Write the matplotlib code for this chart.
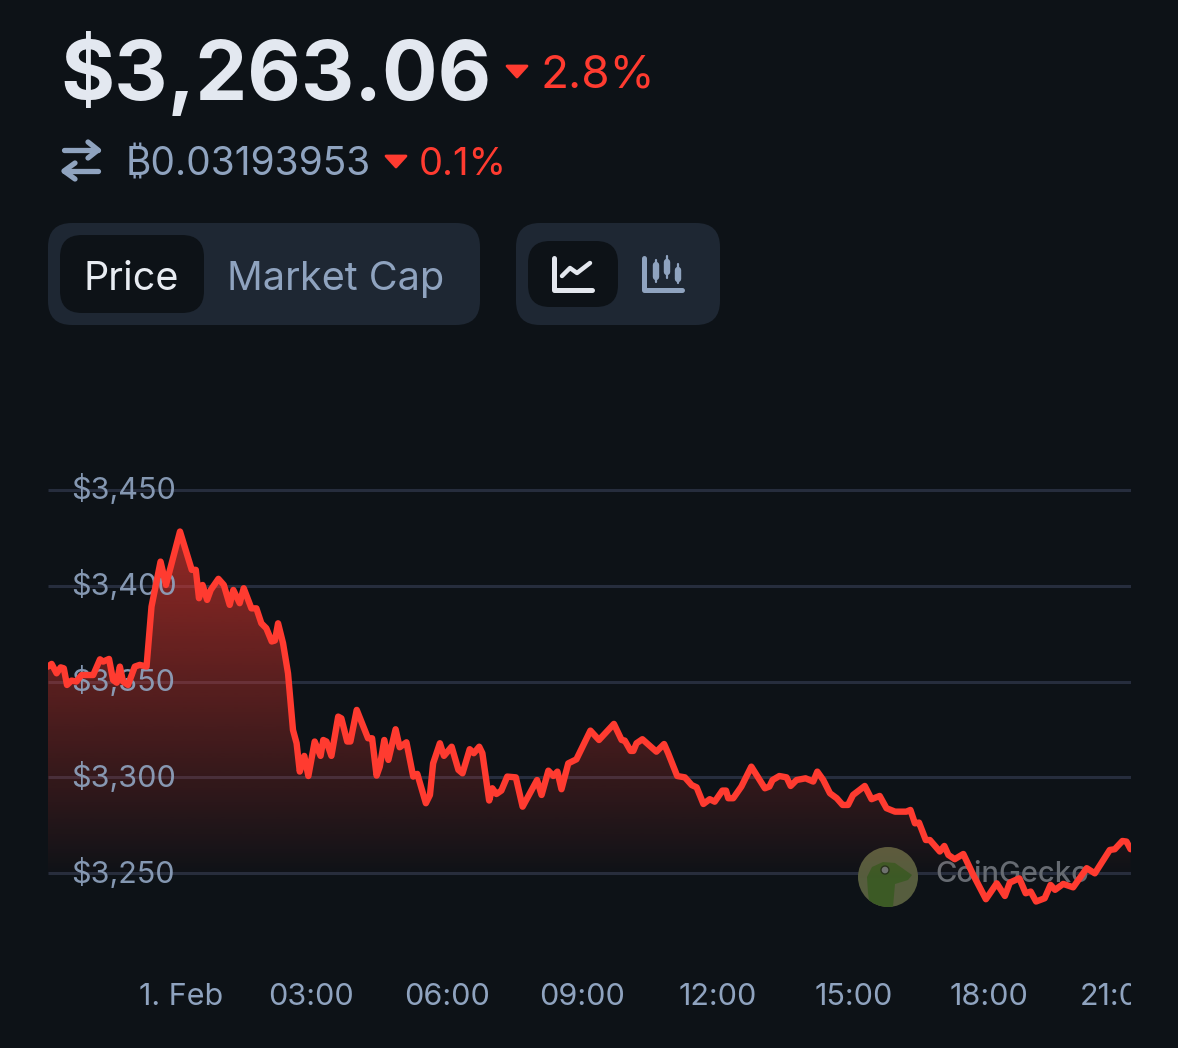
import numpy as np
import matplotlib
matplotlib.use('Agg')
import matplotlib.pyplot as plt
from matplotlib.patches import Circle, FancyBboxPatch, Polygon
from matplotlib.transforms import Bbox

# hours relative to 1 Feb 00:00, price in USD
hours = [
    -2.82, -2.74, -2.63, -2.54, -2.47, -2.40, -2.30, -2.19, -2.08, -1.82, -1.67, -1.60, -1.47, -1.38, -1.30,
    -1.23, -1.16, -1.05, -0.90, -0.79, -0.64, -0.53, -0.33, -0.21, 0.10, 0.36, 0.45, 0.52, 0.60, 0.70,
    0.78, 0.95, 1.07, 1.20, 1.28, 1.42, 1.51, 1.68, 1.79, 1.90, 2.01, 2.13, 2.20, 2.27, 2.38,
    2.49, 2.60, 2.68, 2.75, 2.85, 2.94, 3.08, 3.21, 3.27, 3.34, 3.45, 3.60, 3.67, 3.80, 3.87,
    4.01, 4.26, 4.35, 4.45, 4.52, 4.62, 4.71, 4.87, 4.96, 5.11, 5.26, 5.35, 5.54, 5.63, 5.70,
    5.85, 5.94, 6.11, 6.26, 6.35, 6.51, 6.60, 6.72, 6.79, 6.94, 7.01, 7.10, 7.21, 7.34, 7.53,
    7.68, 8.00, 8.10, 8.25, 8.36, 8.45, 8.54, 8.69, 8.87, 9.18, 9.37, 9.70, 9.87, 9.94, 10.07,
    10.13, 10.20, 10.33, 10.64, 10.81, 10.90, 11.10, 11.27, 11.42, 11.53, 11.68, 11.82, 11.93, 12.10, 12.18,
    12.23, 12.34, 12.52, 12.74, 13.04, 13.14, 13.21, 13.36, 13.52, 13.61, 13.74, 13.94, 14.11, 14.20, 14.33,
    14.48, 14.63, 14.76, 14.88, 14.99, 15.25, 15.40, 15.58, 15.73, 15.92, 16.17, 16.26, 16.36, 16.45, 16.60,
    16.69, 16.91, 17.01, 17.10, 17.24, 17.43, 17.65, 17.93, 18.17, 18.35, 18.46, 18.67, 18.81, 18.92, 19.04,
    19.23, 19.36, 19.46, 19.64, 19.86, 20.16, 20.34, 20.67, 20.78, 20.95, 21.04, 21.13,
]
prices = [
    3357.8, 3359.2, 3354.3, 3357.4, 3356.9, 3348.2, 3350.5, 3350.0, 3353.4, 3353.4, 3361.6, 3360.4, 3361.8, 3350.8, 3349.4,
    3357.8, 3350.0, 3348.2, 3357.8, 3358.7, 3357.8, 3389.1, 3412.6, 3400.4, 3428.3, 3408.3, 3408.3, 3393.5, 3400.4, 3392.6,
    3397.8, 3403.6, 3400.4, 3390.0, 3397.8, 3390.9, 3398.7, 3388.2, 3388.2, 3380.4, 3377.8, 3370.9, 3371.4, 3380.4, 3370.0,
    3354.3, 3324.7, 3317.8, 3303.0, 3311.2, 3300.7, 3318.7, 3311.2, 3319.5, 3318.7, 3311.2, 3331.7, 3330.8, 3318.7, 3318.7,
    3335.2, 3320.4, 3320.4, 3300.9, 3305.6, 3319.5, 3309.1, 3325.1, 3315.7, 3318.3, 3300.4, 3301.8, 3286.5, 3290.8, 3307.3,
    3317.8, 3311.2, 3316.0, 3303.9, 3302.1, 3314.7, 3312.6, 3316.0, 3312.6, 3287.9, 3294.3, 3291.3, 3293.1, 3300.4, 3300.0,
    3284.7, 3298.6, 3290.8, 3303.5, 3300.7, 3303.0, 3293.8, 3307.3, 3309.4, 3324.4, 3319.5, 3327.9, 3319.5, 3319.2, 3313.8,
    3313.8, 3317.8, 3319.9, 3313.4, 3317.4, 3312.6, 3300.7, 3300.0, 3296.0, 3294.8, 3286.1, 3288.6, 3287.3, 3293.1, 3293.1,
    3289.1, 3289.1, 3295.2, 3305.6, 3294.3, 3295.2, 3298.6, 3300.7, 3300.0, 3295.5, 3298.6, 3299.5, 3297.8, 3303.0, 3298.7,
    3291.7, 3289.1, 3285.6, 3285.6, 3290.8, 3295.5, 3288.6, 3290.3, 3283.9, 3282.1, 3282.1, 3283.0, 3276.0, 3276.4, 3267.3,
    3267.3, 3261.3, 3264.2, 3259.5, 3257.3, 3260.0, 3249.1, 3236.4, 3244.7, 3238.1, 3245.1, 3247.3, 3239.5, 3240.4, 3235.2,
    3236.9, 3243.9, 3241.3, 3244.4, 3242.6, 3252.6, 3249.9, 3262.1, 3262.5, 3266.8, 3266.5, 3262.5,
]
ytick_values = [3250, 3300, 3350, 3400, 3450]
ytick_labels = ['$3,250', '$3,300', '$3,350', '$3,400', '$3,450']
# "1. Feb" sits a little right of midnight, "21:00" a little left of its hour
xtick_values = [0.13, 3, 6, 9, 12, 15, 18, 20.87]
xtick_labels = ['1. Feb', '03:00', '06:00', '09:00', '12:00', '15:00', '18:00', '21:00']

BG = '#0d1217'
RED = '#ff3b30'
SLATE = '#8fa3bf'
PANEL = '#1e2733'
FONT = ['Inter', 'DejaVu Sans']

plt.rcParams['font.family'] = FONT

W, H = 1178, 1048
fig = plt.figure(figsize=(W / 100, H / 100), dpi=100, facecolor=BG)

# image pixel rows the chart covers, mapped to its y limits
chart_top, chart_bottom = 470, 950
chart_rect = [48 / W, 1 - chart_bottom / H, (1131 - 48) / W, (chart_bottom - chart_top) / H]
x_range = (-2.82, 21.14)
y_range = (3209.9, 3460.4)

# gridlines go in their own axes so the watermark can sit on top of them
grid_ax = fig.add_axes(chart_rect, zorder=0)
grid_ax.set_xlim(*x_range)
grid_ax.set_ylim(*y_range)
grid_ax.axis('off')
grid_ax.hlines(ytick_values, *x_range, color='#262d3d', lw=2.2)

# header and buttons are laid out in image pixels
ui = fig.add_axes([0, 0, 1, 1], zorder=1)
ui.set_xlim(0, W)
ui.set_ylim(H, 0)
ui.axis('off')

ui.text(60, 74, '$3,263.06', color='#e3e8f0', fontsize=59.5, fontweight='bold', va='center', ha='left')
ui.text(540, 75, '2.8%', color=RED, fontsize=33, va='center', ha='left')
ui.text(126, 165, '₿0.03193953', color=SLATE, fontsize=28, va='center', ha='left')
ui.text(419, 165, '0.1%', color=RED, fontsize=27.5, va='center', ha='left')


def triangle(cx, cy):
    ui.add_patch(Polygon([(cx - 10, cy - 5), (cx + 10, cy - 5), (cx, cy + 6)], closed=True, facecolor=RED,
                         edgecolor=RED, linewidth=2, joinstyle='round'))


triangle(517, 71)
triangle(396, 161)


def stroke(xs, ys, color, lw=3.2):
    ui.plot(xs, ys, color=color, lw=lw, solid_capstyle='round', solid_joinstyle='round')


# swap arrows
stroke([64, 98], [150, 150], SLATE, 3.8)
stroke([88, 98, 88], [142, 150, 158], SLATE, 3.8)
stroke([98, 64], [171, 171], SLATE, 3.8)
stroke([75, 64, 75], [163, 171, 179], SLATE, 3.8)


def panel(x0, y0, x1, y1, color, radius):
    ui.add_patch(FancyBboxPatch((x0, y0), x1 - x0, y1 - y0, boxstyle=f'round,pad=0,rounding_size={radius}',
                                facecolor=color, edgecolor='none'))


panel(48, 223, 480, 325, PANEL, 24)
panel(60, 235, 204, 313, BG, 22)
panel(516, 223, 720, 325, PANEL, 24)
panel(528, 241, 618, 307, BG, 22)
ui.text(131.5, 279, 'Price', color='#e8ecf2', fontsize=28.5, ha='center', va='center')
ui.text(335.5, 279, 'Market Cap', color=SLATE, fontsize=28.5, ha='center', va='center')

# line chart icon
stroke([554, 554, 592], [258, 290, 290], '#e3e7ee', 3.6)
stroke([562, 570, 577, 590], [276, 268, 273, 263], '#e3e7ee', 3.2)

# candlestick icon
stroke([644, 644, 682], [258, 290, 290], SLATE, 3.6)
for cx, wick_top, body_top, body_bot, wick_bot in [(656, 260, 265, 277, 282), (667, 256, 262, 272, 278), (678, 264, 270, 279, 283)]:
    stroke([cx, cx], [wick_top, wick_bot], SLATE, 1.6)
    stroke([cx, cx], [body_top, body_bot], SLATE, 4.6)

# watermark
logo = Circle((888, 877), 30, facecolor='#565d3e', edgecolor='none')
ui.add_patch(logo)
gecko = Polygon([(868, 893), (867, 877), (872, 867), (883, 862), (895, 863), (912, 875), (908, 880),
                 (895, 884), (893, 907), (870, 907)], closed=True, facecolor='#3c5a25', edgecolor='none')
ui.add_patch(gecko)
gecko.set_clip_path(logo)
ui.add_patch(Circle((885, 870), 4, facecolor='#6d7270', edgecolor='#26331c', linewidth=1))
ui.text(935, 875, 'CoinGecko', color='#666b72', fontsize=21, fontweight='medium', ha='left', va='center')

# price line and its fade
ax = fig.add_axes(chart_rect, zorder=2)
ax.patch.set_alpha(0)

shape = ax.fill_between(hours, prices, y_range[0], facecolor='none', edgecolor='none')
alpha = np.linspace(0.56, 0, 256).reshape(-1, 1)
shade = np.zeros((256, 1, 4))
shade[..., :3] = matplotlib.colors.to_rgb(RED)
shade[..., 3] = alpha
img = ax.imshow(shade, extent=(x_range[0], x_range[1], 3246, max(prices)), origin='upper', aspect='auto', zorder=2,
                interpolation='bilinear')
img.set_clip_path(shape.get_paths()[0], transform=ax.transData)

ax.plot(hours, prices, color=RED, lw=4.6, solid_joinstyle='round', solid_capstyle='round', zorder=3)

ax.set_xlim(*x_range)
ax.set_ylim(*y_range)
for side in ax.spines.values():
    side.set_visible(False)
ax.set_axisbelow(False)

ax.set_yticks(ytick_values)
ax.set_yticklabels(ytick_labels)
ax.set_xticks(xtick_values)
ax.set_xticklabels(xtick_labels)
ax.tick_params(axis='y', length=0, direction='in', pad=-16.5, labelsize=22, labelcolor=SLATE)
ax.tick_params(axis='x', length=0, pad=24, labelsize=22, labelcolor=SLATE)
for lab in ax.get_yticklabels():
    lab.set_horizontalalignment('left')
    lab.set_verticalalignment('center')
    lab.set_alpha(0.92)

# the last label runs off the plot area in the original
for lab in ax.get_xticklabels():
    lab.set_clip_box(Bbox([[0, 0], [1131, H]]))
    lab.set_clip_on(True)

fig.savefig('out.png', dpi=100, facecolor=BG)
plt.close(fig)
